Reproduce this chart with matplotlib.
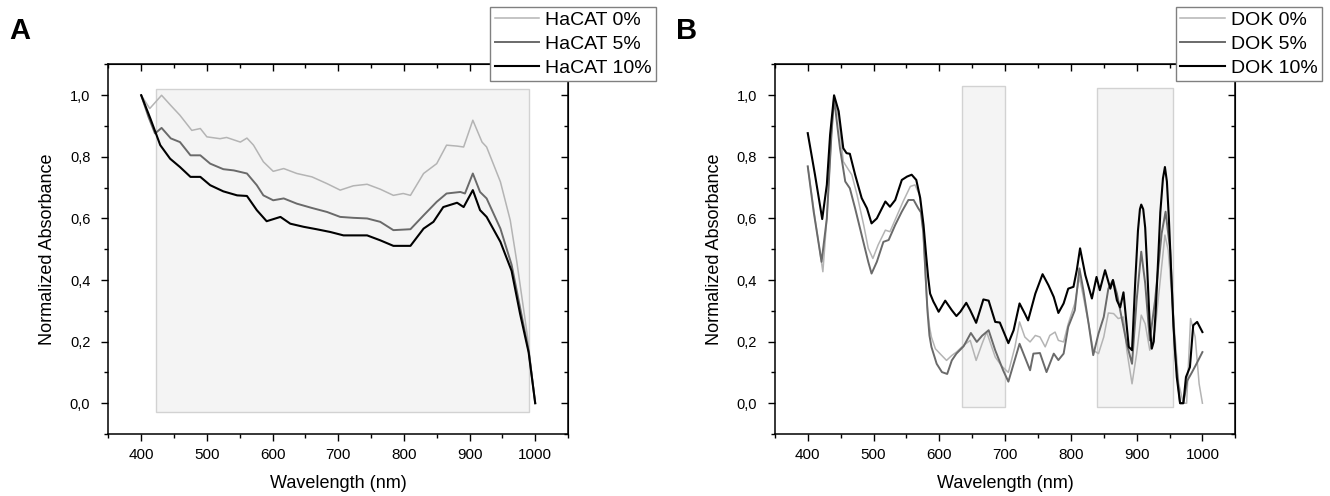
import matplotlib
matplotlib.use("Agg")
import matplotlib.pyplot as plt
from matplotlib.patches import Rectangle
from matplotlib.ticker import MultipleLocator, FuncFormatter

plt.rcParams['font.family'] = ['Liberation Sans', 'DejaVu Sans']

# === Panel A: HaCAT ===
hacat0_wl = [400, 413, 431, 445, 459, 477, 490, 500, 520, 530, 551, 561, 571, 586, 601, 617,
             637, 660, 683, 703, 723, 744, 764, 784, 799, 810, 830, 850, 865, 881, 891, 905,
             919, 926, 947, 962, 972, 982, 988, 1000]
hacat0 = [1.0, 0.957, 1.0, 0.967, 0.935, 0.886, 0.892, 0.865, 0.859, 0.863, 0.848, 0.861, 0.838,
          0.784, 0.753, 0.762, 0.746, 0.735, 0.713, 0.692, 0.706, 0.711, 0.695, 0.675, 0.681,
          0.675, 0.746, 0.778, 0.838, 0.835, 0.832, 0.919, 0.848, 0.832, 0.719, 0.594, 0.459,
          0.31, 0.22, 0.0]

hacat5_wl = [400, 411, 421, 431, 445, 459, 475, 490, 505, 525, 541, 561, 576, 586, 601, 617, 637,
             660, 683, 703, 723, 744, 764, 784, 810, 830, 850, 865, 886, 893, 905, 916, 926, 947,
             964, 977, 990, 1000]
hacat5 = [1.0, 0.93, 0.876, 0.894, 0.86, 0.848, 0.805, 0.805, 0.778, 0.76, 0.756, 0.746, 0.708,
          0.675, 0.659, 0.665, 0.648, 0.634, 0.621, 0.605, 0.602, 0.6, 0.589, 0.562, 0.565, 0.61,
          0.654, 0.681, 0.686, 0.681, 0.746, 0.686, 0.665, 0.567, 0.45, 0.31, 0.17, 0.0]

hacat10_wl = [400, 414, 429, 444, 459, 475, 490, 505, 525, 546, 561, 576, 591, 612, 627, 647, 667,
              688, 708, 723, 744, 764, 784, 810, 830, 845, 860, 881, 891, 905, 916, 926, 947, 964,
              977, 990, 1000]
hacat10 = [1.0, 0.924, 0.838, 0.794, 0.767, 0.735, 0.735, 0.708, 0.688, 0.675, 0.673, 0.627, 0.591,
           0.605, 0.583, 0.573, 0.565, 0.556, 0.545, 0.545, 0.545, 0.529, 0.511, 0.511, 0.567,
           0.589, 0.637, 0.651, 0.637, 0.692, 0.627, 0.605, 0.524, 0.43, 0.29, 0.165, 0.0]

# === Panel B: DOK ===
dok0_wl = [400, 411, 423, 429, 436, 440, 447, 454, 462, 467, 475, 485, 492, 499, 507, 518, 525,
           535, 545, 556, 563, 570, 574, 578, 581, 585, 588, 594, 601, 611, 619, 626, 637, 647,
           656, 665, 672, 685, 695, 705, 715, 722, 730, 738, 746, 753, 761, 768, 776, 781, 789,
           796, 806, 813, 819, 827, 834, 842, 850, 857, 865, 872, 880, 885, 893, 900, 907, 913,
           920, 928, 938, 943, 948, 956, 964, 971, 976, 982, 989, 995, 1000]
dok0 = [0.769, 0.6, 0.427, 0.6, 0.872, 0.991, 0.926, 0.785, 0.758, 0.742, 0.676, 0.579, 0.503,
        0.47, 0.514, 0.562, 0.557, 0.606, 0.655, 0.704, 0.709, 0.676, 0.6, 0.45, 0.33, 0.25,
        0.215, 0.177, 0.161, 0.139, 0.155, 0.166, 0.188, 0.204, 0.139, 0.193, 0.231, 0.15,
        0.12, 0.1, 0.183, 0.264, 0.215, 0.199, 0.22, 0.215, 0.183, 0.22, 0.231, 0.204, 0.199,
        0.258, 0.324, 0.41, 0.346, 0.258, 0.172, 0.161, 0.215, 0.293, 0.291, 0.275, 0.28, 0.172,
        0.063, 0.161, 0.286, 0.258, 0.172, 0.237, 0.443, 0.546, 0.497, 0.28, 0.063, 0.0, 0.0,
        0.275, 0.215, 0.063, 0.0]

dok5_wl = [400, 409, 421, 429, 436, 440, 449, 457, 464, 472, 482, 492, 497, 505, 515, 523, 533,
           543, 553, 561, 568, 572, 576, 579, 582, 585, 588, 596, 604, 612, 619, 626, 637, 648,
           657, 665, 675, 685, 697, 705, 713, 722, 730, 738, 743, 753, 763, 774, 781, 789, 796,
           806, 813, 819, 827, 834, 842, 850, 857, 864, 870, 877, 885, 893, 900, 907, 913, 920,
           928, 938, 944, 951, 958, 966, 971, 977, 984, 991, 1000]
dok5 = [0.769, 0.622, 0.459, 0.6, 0.872, 0.99, 0.828, 0.72, 0.698, 0.633, 0.546, 0.459, 0.421,
        0.459, 0.524, 0.53, 0.579, 0.622, 0.66, 0.66, 0.633, 0.62, 0.55, 0.42, 0.3, 0.22, 0.183,
        0.128, 0.101, 0.095, 0.139, 0.161, 0.185, 0.228, 0.199, 0.219, 0.237, 0.172, 0.107,
        0.07, 0.128, 0.193, 0.15, 0.107, 0.161, 0.163, 0.101, 0.161, 0.14, 0.161, 0.248, 0.302,
        0.438, 0.367, 0.258, 0.156, 0.226, 0.28, 0.372, 0.4, 0.356, 0.28, 0.193, 0.128, 0.334,
        0.492, 0.389, 0.204, 0.334, 0.551, 0.622, 0.497, 0.172, 0.0, 0.0, 0.073, 0.1, 0.128,
        0.166]

dok10_wl = [400, 411, 422, 429, 434, 440, 447, 454, 459, 464, 472, 482, 490, 497, 505, 518, 525,
            533, 543, 551, 558, 565, 571, 576, 580, 583, 586, 591, 594, 599, 609, 619, 626, 632,
            641, 647, 656, 667, 675, 685, 692, 705, 713, 722, 730, 735, 746, 757, 766, 774, 781,
            789, 796, 804, 809, 814, 822, 832, 839, 844, 852, 860, 864, 870, 875, 880, 888, 893,
            898, 902, 905, 907, 910, 913, 916, 920, 923, 926, 929, 933, 936, 940, 943, 946, 949,
            952, 956, 961, 966, 971, 975, 981, 986, 992, 1000]
dok10 = [0.877, 0.742, 0.598, 0.709, 0.872, 1.0, 0.948, 0.828, 0.812, 0.81, 0.742, 0.666, 0.633,
         0.584, 0.6, 0.655, 0.638, 0.66, 0.725, 0.736, 0.742, 0.725, 0.666, 0.579, 0.48, 0.41,
         0.356, 0.33, 0.318, 0.297, 0.333, 0.302, 0.283, 0.297, 0.326, 0.302, 0.261, 0.337,
         0.333, 0.264, 0.262, 0.195, 0.237, 0.324, 0.291, 0.269, 0.356, 0.419, 0.383, 0.345,
         0.293, 0.324, 0.372, 0.378, 0.432, 0.503, 0.416, 0.34, 0.41, 0.367, 0.432, 0.372, 0.4,
         0.334, 0.311, 0.36, 0.183, 0.172, 0.4, 0.56, 0.63, 0.645, 0.63, 0.57, 0.44, 0.25, 0.177,
         0.2, 0.3, 0.48, 0.62, 0.73, 0.767, 0.72, 0.6, 0.45, 0.25, 0.085, 0.0, 0.0, 0.085, 0.117,
         0.253, 0.264, 0.231]

# shaded regions: (x0, x1, y0, y1)
hacat_boxes = [(423, 990, -0.03, 1.02)]
dok_boxes = [(635, 700, -0.012, 1.03), (840, 955, -0.012, 1.022)]

COLORS = ["#b4b4b4", "#6a6a6a", "#000000"]
WIDTHS = [1.1, 1.4, 1.5]

fig = plt.figure(figsize=(13.30, 4.96), dpi=100)
axA = fig.add_axes([0.0815, 0.125, 0.3456, 0.745])
axB = fig.add_axes([0.5826, 0.125, 0.3462, 0.745])

comma = FuncFormatter(lambda v, p: f"{v:.1f}".replace(".", ","))


def style_axes(ax):
    ax.set_xlim(350, 1050)
    ax.set_ylim(-0.1, 1.1)
    ax.xaxis.set_major_locator(MultipleLocator(100))
    ax.xaxis.set_minor_locator(MultipleLocator(50))
    ax.yaxis.set_major_locator(MultipleLocator(0.2))
    ax.yaxis.set_minor_locator(MultipleLocator(0.1))
    ax.yaxis.set_major_formatter(comma)
    ax.tick_params(which="major", direction="out", length=5, width=1.0)
    ax.tick_params(which="minor", direction="out", length=3, width=1.0)
    ax.tick_params(axis="x", which="major", labelsize=11, pad=5)
    ax.tick_params(axis="y", which="major", labelsize=10.5, pad=8)
    for s in ax.spines.values():
        s.set_linewidth(1.1)
    top = ax.secondary_xaxis("top")
    top.xaxis.set_major_locator(MultipleLocator(100))
    top.xaxis.set_minor_locator(MultipleLocator(50))
    top.tick_params(which="both", direction="in", labeltop=False, width=1.0)
    top.tick_params(which="major", length=5)
    top.tick_params(which="minor", length=3)
    right = ax.secondary_yaxis("right")
    right.yaxis.set_major_locator(MultipleLocator(0.2))
    right.yaxis.set_minor_locator(MultipleLocator(0.1))
    right.tick_params(which="both", direction="in", labelright=False, width=1.0)
    right.tick_params(which="major", length=5)
    right.tick_params(which="minor", length=3)
    ax.set_xlabel("Wavelength (nm)", fontsize=13)
    ax.set_ylabel("Normalized Absorbance", fontsize=13)
    ax.xaxis.set_label_coords(0.5, -0.112)
    ax.yaxis.set_label_coords(-0.113, 0.5)


def add_boxes(ax, boxes):
    for x0, x1, y0, y1 in boxes:
        ax.add_patch(Rectangle((x0, y0), x1 - x0, y1 - y0, facecolor="#f4f4f4",
                               edgecolor="#d2d2d2", linewidth=1.0, zorder=0))


# --- A ---
add_boxes(axA, hacat_boxes)
for (wl, y, lab), c, lw in zip([(hacat0_wl, hacat0, "HaCAT 0%"),
                                (hacat5_wl, hacat5, "HaCAT 5%"),
                                (hacat10_wl, hacat10, "HaCAT 10%")], COLORS, WIDTHS):
    axA.plot(wl, y, color=c, lw=lw, label=lab, zorder=3)
style_axes(axA)

# --- B ---
add_boxes(axB, dok_boxes)
for (wl, y, lab), c, lw in zip([(dok0_wl, dok0, "DOK 0%"),
                                (dok5_wl, dok5, "DOK 5%"),
                                (dok10_wl, dok10, "DOK 10%")], COLORS, WIDTHS):
    axB.plot(wl, y, color=c, lw=lw, label=lab, zorder=3)
style_axes(axB)

for ax, anchor in [(axA, (656 / 1330, 1 - 7 / 496)), (axB, (1322 / 1330, 1 - 7 / 496))]:
    leg = ax.legend(loc="upper right", bbox_to_anchor=anchor, bbox_transform=fig.transFigure,
                    fontsize=14, frameon=True, fancybox=False, framealpha=1,
                    handlelength=2.3, handletextpad=0.3, labelspacing=0.33,
                    borderpad=0.22, borderaxespad=0)
    leg.get_frame().set_edgecolor("#808080")
    leg.get_frame().set_linewidth(1.0)
    leg.set_zorder(10)

fig.text(0.007, 0.965, "A", fontsize=21, fontweight="bold", va="top", ha="left")
fig.text(0.508, 0.965, "B", fontsize=21, fontweight="bold", va="top", ha="left")

fig.savefig("out.png", dpi=100)
